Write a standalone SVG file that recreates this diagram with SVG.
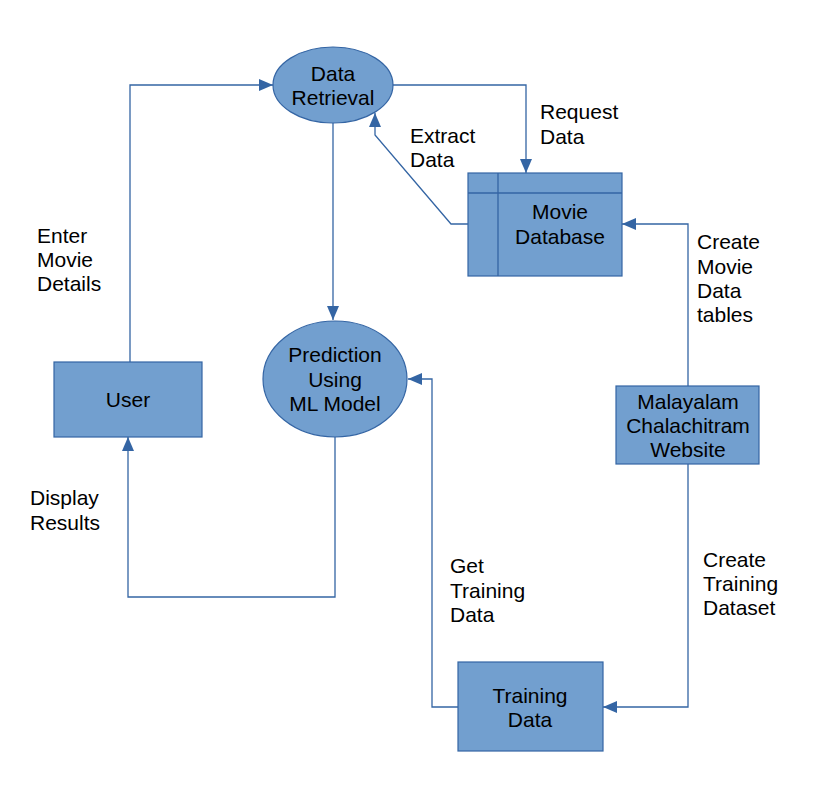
<svg xmlns="http://www.w3.org/2000/svg" width="836" height="786" viewBox="0 0 836 786">
<style>
.shape{fill:#729fcf;stroke:#3465a4;stroke-width:1.2}
.line{fill:none;stroke:#3465a4;stroke-width:1.3}
text{font-family:"Liberation Sans",Arial,sans-serif;font-size:21px;fill:#000}
.c{text-anchor:middle}
</style>
<defs>
<marker id="ah" markerUnits="userSpaceOnUse" markerWidth="14" markerHeight="12" refX="14" refY="6" orient="auto">
<path d="M0,0 L14,6 L0,12 Z" fill="#3465a4"/>
</marker>
</defs>
<rect width="836" height="786" fill="#fff"/>
<g id="connectors">
<path class="line" d="M130,362 V85 H273" marker-end="url(#ah)"/>
<path class="line" d="M393,85 H526 V173" marker-end="url(#ah)"/>
<path class="line" d="M468,224 H451 L375,135 V113" marker-end="url(#ah)"/>
<path class="line" d="M333,123 V320" marker-end="url(#ah)"/>
<path class="line" d="M335,437 V597 H128 V437" marker-end="url(#ah)"/>
<path class="line" d="M688,386 V224 H622" marker-end="url(#ah)"/>
<path class="line" d="M688,464 V707 H603" marker-end="url(#ah)"/>
<path class="line" d="M458,707 H432 V379 H408" marker-end="url(#ah)"/>
</g>
<g id="data-retrieval">
<ellipse class="shape" cx="333" cy="85" rx="60" ry="38"/>
<text class="c" x="333" y="81">Data</text>
<text class="c" x="333" y="105">Retrieval</text>
</g>
<g id="movie-database">
<rect class="shape" x="468" y="173" width="154" height="103"/>
<line class="line" x1="498" y1="173" x2="498" y2="276"/>
<line class="line" x1="468" y1="193" x2="622" y2="193"/>
<text class="c" x="560" y="219">Movie</text>
<text class="c" x="560" y="244">Database</text>
</g>
<g id="user">
<rect class="shape" x="54" y="362" width="148" height="75"/>
<text class="c" x="128" y="407">User</text>
</g>
<g id="prediction">
<ellipse class="shape" cx="335" cy="379" rx="72" ry="58"/>
<text class="c" x="335" y="362">Prediction</text>
<text class="c" x="335" y="387">Using</text>
<text class="c" x="335" y="411">ML Model</text>
</g>
<g id="malayalam">
<rect class="shape" x="616" y="386" width="143" height="78"/>
<text class="c" x="688" y="409">Malayalam</text>
<text class="c" x="688" y="433">Chalachitram</text>
<text class="c" x="688" y="457">Website</text>
</g>
<g id="training-data">
<rect class="shape" x="458" y="662" width="145" height="89"/>
<text class="c" x="530" y="703">Training</text>
<text class="c" x="530" y="727">Data</text>
</g>
<g id="labels">
<text x="37" y="243">Enter</text>
<text x="37" y="267">Movie</text>
<text x="37" y="291">Details</text>
<text x="30" y="505">Display</text>
<text x="30" y="530">Results</text>
<text x="410" y="143">Extract</text>
<text x="410" y="167">Data</text>
<text x="540" y="119">Request</text>
<text x="540" y="144">Data</text>
<text x="697" y="249">Create</text>
<text x="697" y="274">Movie</text>
<text x="697" y="298">Data</text>
<text x="697" y="322">tables</text>
<text x="450" y="573">Get</text>
<text x="450" y="598">Training</text>
<text x="450" y="622">Data</text>
<text x="703" y="567">Create</text>
<text x="703" y="591">Training</text>
<text x="703" y="615">Dataset</text>
</g>
</svg>
